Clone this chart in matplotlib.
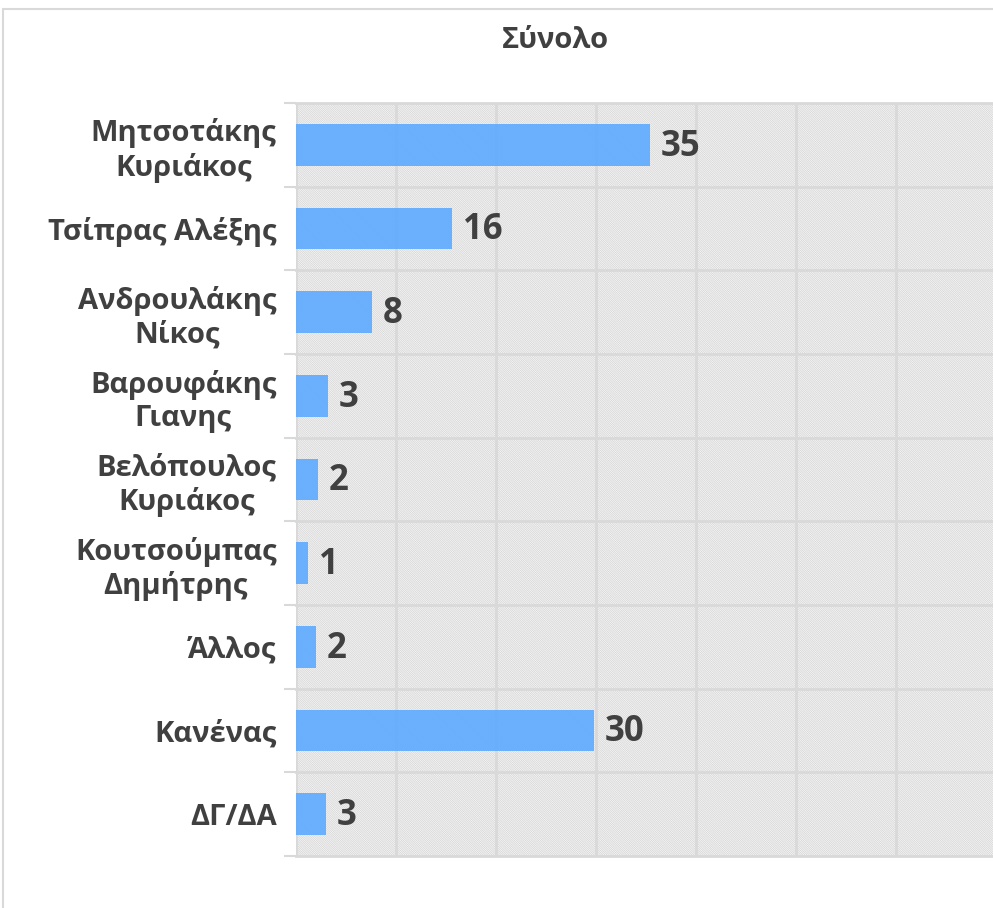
import matplotlib
matplotlib.use("Agg")
import matplotlib.pyplot as plt
from matplotlib.patches import Rectangle
import numpy as np

categories = ["Μητσοτάκης\nΚυριάκος", "Τσίπρας Αλέξης", "Ανδρουλάκης\nΝίκος",
              "Βαρουφάκης\nΓιανης", "Βελόπουλος\nΚυριάκος", "Κουτσούμπας\nΔημήτρης",
              "Άλλος", "Κανένας", "ΔΓ/ΔΑ"]
values = [35.4, 15.6, 7.6, 3.2, 2.2, 1.2, 2.0, 29.8, 3.0]
labels = ["35", "16", "8", "3", "2", "1", "2", "30", "3"]
xticks = [0, 10, 20, 30, 40, 50, 60]

W, H = 993, 908
fig = plt.figure(figsize=(W / 100, H / 100), dpi=100)
plt.rcParams['hatch.linewidth'] = 0.5
plt.rcParams['hatch.color'] = '#d0d0d0'

grid_c = '#d9d9d9'
text_c = '#404040'
font = ['Open Sans', 'DejaVu Sans']

# outer chart border
fig.patches.append(Rectangle((3 / W, -0.1), 1.2, 1 - 9 / H + 0.1, transform=fig.transFigure,
                             facecolor='none', edgecolor=grid_c, linewidth=1.5, zorder=0))

ax = fig.add_axes([296 / W, 1 - 856 / H, 1 - 296 / W, (856 - 103) / H])
n = len(categories)
y = np.arange(n)
ax.set_ylim(n - 0.5, -0.5)
ax.set_xlim(0, (W - 296) / 10.0)

ax.patch.set_facecolor('white')
ax.add_patch(Rectangle((0, 0), 1, 1, transform=ax.transAxes, facecolor='white',
                       edgecolor='#d0d0d0', hatch='\\' * 18, linewidth=0, zorder=0))

for xv in xticks:
    ax.axvline(xv, color=grid_c, linewidth=2, zorder=1)
for b in np.arange(n + 1) - 0.5:
    ax.axhline(b, color=grid_c, linewidth=2, zorder=1, clip_on=False)

ax.barh(y, values, height=0.5, color='#5DAAFF', alpha=0.9, zorder=2)
for yi, v, lab in zip(y, values, labels):
    ax.text(v + 1.1, yi + 0.02, lab, va='center', ha='left', fontsize=25, fontweight='bold',
            color=text_c, family=font, zorder=3)

ax.set_xticks([])
ax.set_yticks(np.arange(n + 1) - 0.5, minor=False)
ax.set_yticklabels([])
ax.tick_params(axis='y', which='major', length=9, width=1.5, color=grid_c)
ax.set_yticks(y, minor=True)
ax.set_yticklabels(categories, minor=True, fontsize=21, fontweight='bold', color=text_c,
                   family=font, multialignment='center', linespacing=1.2)
ax.tick_params(axis='y', which='minor', length=0, pad=14)
for s in ax.spines.values():
    s.set_visible(False)

fig.text(555 / W, 1 - 40 / H, "Σύνολο", ha='center', va='center', fontsize=21,
         fontweight='bold', color=text_c, family=font)

fig.savefig("out.png", dpi=100)
